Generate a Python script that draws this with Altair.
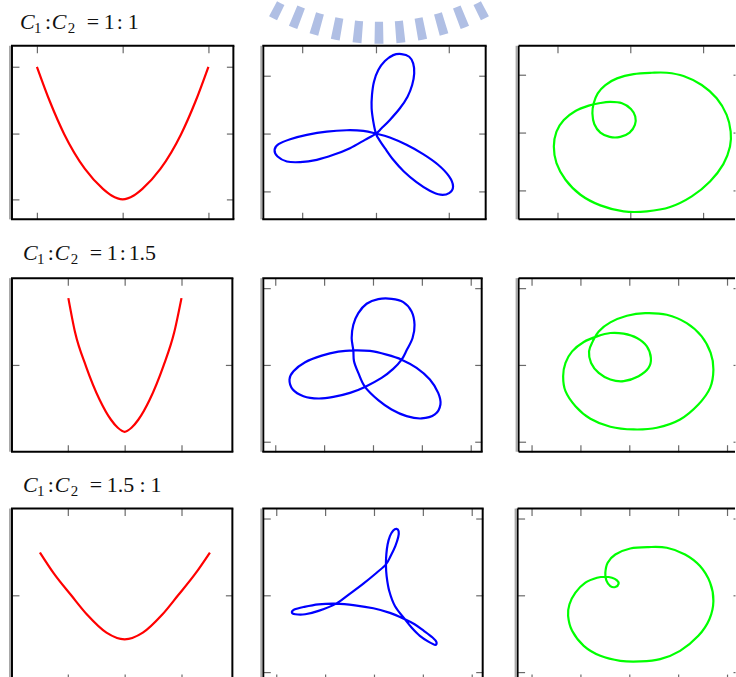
import altair as alt
import pandas as pd

# ---------------------------------------------------------------
# Trajectory samples, in axis units of each panel
# ---------------------------------------------------------------
# Row 1 : C1:C2 = 1:1
R1_RED_X = [-1.0, -0.85, -0.68, -0.44, -0.23, -0.13, 0.0, 0.13, 0.23, 0.44, 0.68, 0.85, 1.0]
R1_RED_Y = [1.0, 0.74, 0.49, 0.23, 0.08, 0.03, 0.0, 0.03, 0.08, 0.23, 0.49, 0.74, 1.0]

R1_BLUE_X = [0.0, -0.036, -0.059, -0.054, -0.027, 0.032, 0.122, 0.236, 0.349, 0.454, 0.508, 0.522,
             0.494, 0.431, 0.327, 0.190, 0.077,
             0.0, -0.150, -0.354, -0.580, -0.807, -1.034, -1.215, -1.342, -1.383, -1.329, -1.170,
             -0.943, -0.671, -0.399, -0.172,
             0.0, 0.190, 0.417, 0.644, 0.848, 0.998, 1.052, 0.998, 0.880, 0.735, 0.553, 0.381,
             0.236, 0.122, 0.045]
R1_BLUE_Y = [0.0, 0.207, 0.437, 0.667, 0.897, 1.098, 1.253, 1.356, 1.374, 1.328, 1.213, 1.040,
             0.839, 0.638, 0.437, 0.236, 0.092,
             0.0, -0.109, -0.253, -0.368, -0.454, -0.494, -0.483, -0.397, -0.282, -0.184, -0.098,
             -0.023, 0.034, 0.057, 0.046,
             0.0, -0.069, -0.195, -0.356, -0.540, -0.741, -0.914, -1.029, -1.057, -0.989, -0.839,
             -0.655, -0.454, -0.253, -0.109]

R1_GREEN_X = [0.295, 0.045, -0.181, -0.340, -0.444, -0.499, -0.517, -0.490, -0.408, -0.281, -0.136,
              -0.009, 0.063, 0.068, 0.009, -0.113, -0.272, -0.408, -0.567, -0.748, -0.907, -1.007,
              -1.043, -1.007, -0.884, -0.680, -0.408, -0.091, 0.227, 0.544, 0.839, 1.088, 1.270,
              1.361, 1.370, 1.315, 1.179, 0.975, 0.726, 0.499]
R1_GREEN_Y = [1.034, 1.011, 0.937, 0.822, 0.678, 0.506, 0.333, 0.144, 0.000, -0.075, -0.075,
              0.000, 0.132, 0.276, 0.408, 0.506, 0.529, 0.511, 0.466, 0.374, 0.218, 0.017,
              -0.241, -0.529, -0.816, -1.075, -1.259, -1.362, -1.362, -1.287, -1.103, -0.845, -0.546,
              -0.241, 0.017, 0.305, 0.592, 0.822, 0.977, 1.034]

# Row 2 : C1:C2 = 1:1.5
R2_RED_X = [-0.99, -0.87, -0.68, -0.44, -0.24, -0.12, 0.0, 0.12, 0.24, 0.44, 0.68, 0.87, 1.0]
R2_RED_Y = [1.0, 0.74, 0.49, 0.24, 0.09, 0.03, 0.0, 0.03, 0.09, 0.24, 0.49, 0.74, 1.0]

R2_BLUE_X = [-0.201, -0.218, -0.201, -0.150, -0.065, 0.054, 0.190, 0.310, 0.395, 0.425, 0.405,
             0.344, 0.293, 0.207, 0.088, -0.082, -0.235, -0.405, -0.558, -0.711, -0.820, -0.854,
             -0.813, -0.694, -0.524, -0.354, -0.201, -0.031, 0.139, 0.293, 0.446, 0.582, 0.667,
             0.690, 0.633, 0.497, 0.344, 0.190, 0.054, -0.082, -0.150, -0.194]
R2_BLUE_Y = [0.190, 0.351, 0.524, 0.675, 0.797, 0.857, 0.861, 0.818, 0.697, 0.524, 0.351,
             0.190, 0.069, -0.052, -0.169, -0.286, -0.364, -0.416, -0.437, -0.407, -0.320, -0.190,
             -0.082, 0.035, 0.121, 0.173, 0.190, 0.182, 0.134, 0.069, -0.039, -0.190, -0.364,
             -0.515, -0.645, -0.697, -0.667, -0.580, -0.459, -0.286, -0.104, 0.048]

R2_GREEN_X = [0.163, -0.024, -0.194, -0.313, -0.374, -0.412, -0.391, -0.313, -0.194, -0.058, 0.095,
              0.197, 0.221, 0.180, 0.078, -0.058, -0.194, -0.330, -0.466, -0.585, -0.653, -0.677,
              -0.653, -0.551, -0.398, -0.194, 0.044, 0.282, 0.520, 0.707, 0.827, 0.861, 0.833,
              0.741, 0.588, 0.384]
R2_GREEN_Y = [0.675, 0.641, 0.554, 0.437, 0.307, 0.177, 0.026, -0.104, -0.190, -0.212, -0.147,
              -0.039, 0.091, 0.242, 0.351, 0.407, 0.416, 0.372, 0.299, 0.177, 0.026, -0.147,
              -0.342, -0.537, -0.701, -0.805, -0.840, -0.818, -0.710, -0.515, -0.299, -0.061, 0.156,
              0.372, 0.545, 0.654]

# Row 3 : C1:C2 = 1.5:1
R3_RED_X = [-1.49, -1.24, -0.94, -0.65, -0.32, 0.0, 0.32, 0.65, 0.94, 1.24, 1.50]
R3_RED_Y = [0.82, 0.66, 0.50, 0.35, 0.22, 0.17, 0.22, 0.35, 0.50, 0.66, 0.82]

R3_BLUE_X = [0.122, 0.170, 0.218, 0.248, 0.252, 0.231, 0.197, 0.163, 0.139, 0.126, 0.122,
             0.129, 0.156, 0.214, 0.316, 0.384, 0.469, 0.561, 0.626, 0.639, 0.599, 0.510, 0.415,
             0.316, 0.163, -0.007, -0.194, -0.388, -0.568, -0.721, -0.816, -0.840, -0.806, -0.704,
             -0.568, -0.388, -0.245, -0.109, 0.027]
R3_BLUE_Y = [0.403, 0.511, 0.641, 0.758, 0.835, 0.866, 0.844, 0.771, 0.662, 0.532, 0.403,
             0.251, 0.056, -0.139, -0.312, -0.420, -0.528, -0.606, -0.645, -0.610, -0.550, -0.463,
             -0.377, -0.312, -0.229, -0.169, -0.130, -0.108, -0.117, -0.152, -0.186, -0.225, -0.247,
             -0.247, -0.203, -0.108, 0.022, 0.152, 0.294]

R3_GREEN_X = [0.197, 0.010, -0.143, -0.221, -0.245, -0.235, -0.194, -0.143, -0.109, -0.126, -0.177,
              -0.245, -0.330, -0.449, -0.551, -0.612, -0.626, -0.585, -0.466, -0.296, -0.092, 0.112,
              0.316, 0.520, 0.707, 0.820, 0.861, 0.827, 0.724, 0.571, 0.384]
R3_GREEN_Y = [0.628, 0.610, 0.532, 0.424, 0.294, 0.195, 0.121, 0.108, 0.152, 0.195, 0.229,
              0.242, 0.229, 0.165, 0.035, -0.117, -0.268, -0.463, -0.658, -0.788, -0.853, -0.861,
              -0.831, -0.723, -0.528, -0.312, -0.074, 0.165, 0.381, 0.532, 0.619]

# Tick values of each panel family
TICKS_3 = [-1, 0, 1]
TICKS_5 = [-1, -0.5, 0, 0.5, 1]
TICKS_RED_Y1 = [0, 0.5, 1]
TICKS_RED_Y2 = [0.5]

# Faint emblem behind the first row heading: bar directions (deg from straight down)
EMBLEM_BARS = [-27.0, -21.6, -16.2, -10.8, -5.4, 0.0, 5.4, 10.8, 16.2, 21.6, 27.0]
EMBLEM_INNER = [217, 212, 212, 212, 212, 212, 212, 212, 212, 212, 217]
EMBLEM_OUTER = 234

RED, BLUE, GREEN = "#ff0000", "#0000ff", "#00ff00"
SERIF = "Liberation Serif"
TICK_COLOR = "#6a6a6a"
ONE = pd.DataFrame({"k": [0]})
PI = 3.141592653589793


def axis(orient, values, size=7):
    return alt.Axis(orient=orient, values=values, labels=False, domain=False, grid=False,
                    ticks=True, tickSize=size, tickWidth=1.2, tickColor=TICK_COLOR, offset=-size,
                    title=None, minExtent=0, maxExtent=0)


def rule(cap="square", color="#000000", **pos):
    enc = {k: alt.value(v) for k, v in pos.items()}
    return alt.Chart(ONE).mark_rule(color=color, strokeWidth=2, strokeCap=cap).encode(**enc)


def panel(xs, ys, color, width, height, xdom, ydom, xticks, yticks,
          interp="cardinal-closed", right=True, bottom=True):
    df = pd.DataFrame({"k": list(range(len(xs))), "x": xs, "y": ys})
    sx = alt.Scale(domain=xdom, nice=False, zero=False)
    sy = alt.Scale(domain=ydom, nice=False, zero=False)
    curve = alt.Chart(df).mark_line(color=color, strokeWidth=2.2, interpolate=interp).encode(
        x=alt.X("x:Q", scale=sx, axis=axis("bottom", xticks)),
        y=alt.Y("y:Q", scale=sy, axis=axis("left", yticks)),
        order=alt.Order("k:Q"),
    )
    mirror = alt.Chart(df).mark_line(opacity=0).encode(
        x=alt.X("x:Q", scale=sx, axis=axis("top", xticks)),
        y=alt.Y("y:Q", scale=sy, axis=axis("right", yticks, 7 if right else 2)),
        order=alt.Order("k:Q"),
    )
    hcap = "square" if right else "butt"
    frame = [
        rule(cap=hcap, x=0, x2=width, y=0),
        rule(cap="butt", x=0, y=0, y2=height),
        rule(cap="butt", color="#a8a8a8", x=-2, y=0, y2=height),
    ]
    if bottom:
        frame.append(rule(cap=hcap, x=0, x2=width, y=height))
    if right:
        frame.append(rule(cap="butt", x=width, y=0, y2=height))
    return (
        alt.layer(*frame, curve, mirror)
        .resolve_axis(x="independent", y="independent")
        .properties(width=width, height=height)
    )


def heading(pieces, height, extra=()):
    layers = list(extra)
    for text, x, y, size, italic in pieces:
        layers.append(
            alt.Chart(ONE).mark_text(
                text=text, font=SERIF, fontSize=size, align="left", baseline="alphabetic",
                fontStyle="italic" if italic else "normal", color="#111111",
            ).encode(x=alt.value(x), y=alt.value(y))
        )
    return alt.layer(*layers).properties(width=700, height=height)


def ratio_pieces(base_y, x0, right_parts):
    parts = [
        ("C", x0, base_y, 22, True),
        ("1", x0 + 14, base_y + 4, 15, False),
        (":", x0 + 25, base_y, 22, False),
        ("C", x0 + 32, base_y, 22, True),
        ("2", x0 + 48, base_y + 4, 15, False),
        ("=", x0 + 67, base_y, 22, False),
    ]
    for text, dx in right_parts:
        parts.append((text, x0 + dx, base_y, 22, False))
    return parts


# faint emblem (arc of bars) above the first row
emblem_df = pd.DataFrame({
    "t0": [PI + (a - 1.1) * PI / 180 for a in EMBLEM_BARS],
    "t1": [PI + (a + 1.1) * PI / 180 for a in EMBLEM_BARS],
    "r_in": EMBLEM_INNER,
    "r_out": [EMBLEM_OUTER] * len(EMBLEM_BARS),
})
emblem = alt.Chart(emblem_df).mark_arc(color="#b0bfe4").encode(
    theta=alt.Theta("t0:Q", scale=None, stack=None),
    theta2=alt.Theta2("t1:Q"),
    radius=alt.Radius("r_out:Q", scale=None),
    radius2=alt.Radius2("r_in:Q"),
    x=alt.value(368), y=alt.value(-191),
)

# headings (each heading block starts 9 px from the page's left edge)
title1 = heading(ratio_pieces(28, 8, [("1", 84), (":", 97), ("1", 108)]), 43, extra=[emblem])
title2 = heading(ratio_pieces(39, 11, [("1", 84), (":", 97), ("1.5", 106)]), 55)
title3 = heading(ratio_pieces(38, 11, [("1.5", 84), (":", 117), ("1", 128)]), 53)

# ---------------- panels ----------------
p11 = panel(R1_RED_X, R1_RED_Y, RED, 222, 174, [-1.291, 1.291], [-0.150, 1.158],
            TICKS_3, TICKS_RED_Y1, interp="monotone")
p12 = panel(R1_BLUE_X, R1_BLUE_Y, BLUE, 223, 174, [-1.537, 1.497], [-1.483, 1.517],
            TICKS_3, TICKS_3)
p13 = panel(R1_GREEN_X, R1_GREEN_Y, GREEN, 217, 174, [-1.524, 1.429], [-1.5, 1.5],
            TICKS_3, TICKS_3, right=False)

p21 = panel(R2_RED_X, R2_RED_Y, RED, 221, 174, [-1.982, 1.895], [-0.149, 1.149],
            TICKS_3, TICKS_RED_Y2, interp="monotone")
p22 = panel(R2_BLUE_X, R2_BLUE_Y, BLUE, 219, 174, [-1.122, 1.112], [-1.130, 1.130],
            TICKS_5, TICKS_3)
p23 = panel(R2_GREEN_X, R2_GREEN_Y, GREEN, 217, 174, [-1.133, 1.082], [-1.130, 1.130],
            TICKS_5, TICKS_3, right=False)

p31 = panel(R3_RED_X, R3_RED_Y, RED, 221, 173, [-1.982, 1.895], [-0.142, 1.149],
            TICKS_3, TICKS_RED_Y2, interp="monotone", bottom=False)
p32 = panel(R3_BLUE_X, R3_BLUE_Y, BLUE, 220, 173, [-1.133, 1.112], [-1.117, 1.130],
            TICKS_5, TICKS_3, bottom=False)
p33 = panel(R3_GREEN_X, R3_GREEN_Y, GREEN, 218, 173, [-1.143, 1.082], [-1.117, 1.130],
            TICKS_5, TICKS_3, right=False, bottom=False)

row1 = alt.hconcat(alt.hconcat(p11, p12, spacing=25), p13, spacing=28)
row2 = alt.hconcat(alt.hconcat(p21, p22, spacing=26), p23, spacing=32)
row3 = alt.hconcat(alt.hconcat(p31, p32, spacing=26), p33, spacing=30)

chart = (
    alt.vconcat(title1, row1, title2, row2, title3, row3, spacing=0)
    .properties(padding={"left": 9, "top": 0, "right": 0, "bottom": 0}, background="white")
    .configure_view(strokeWidth=0, stroke="transparent")
)

chart.save("out.html", embed_options={"renderer": "svg", "actions": False})
